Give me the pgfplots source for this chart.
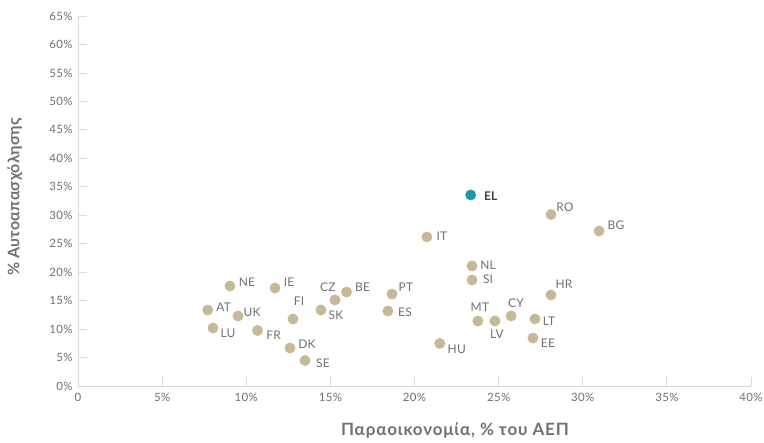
\documentclass[border=0pt]{standalone}
\usepackage{pgfplots}
\pgfplotsset{compat=1.18}
\usepackage{pgfplotstable}
\usepackage{fontspec}
\setmainfont{Lato}
\definecolor{ptan}{HTML}{C8B89A}
\definecolor{elteal}{HTML}{1C99A6}
\definecolor{txt}{HTML}{707070}
\definecolor{axgray}{HTML}{D9D9D9}

\pgfplotstableread{
x y lbl dx dy
7.71 13.35 AT 16 3
8.02 10.19 LU 15 -5
9.03 17.57 NE 17 4
9.51 12.30 UK 14 4
11.71 17.22 IE 14 6
10.67 9.75 FR 16 -5
12.78 11.77 FI 6 18
12.60 6.68 DK 17 4
13.49 4.48 SE 18 -3
14.44 13.35 SK 15 -5
15.27 15.11 CZ -7 13
15.96 16.51 BE 16 5
18.42 13.18 ES 17 -1
18.66 16.16 PT 14 7
20.74 26.18 IT 15 1
23.42 21.08 NL 16 1
23.42 18.62 SI 16 1
21.50 7.47 HU 17 -6
23.77 11.42 MT 2 14
24.78 11.42 LV 2 -13
25.74 12.30 CY 5 13
27.16 11.77 LT 14 -2
27.04 8.43 EE 15 -5
28.11 15.99 HR 13 11
28.11 30.13 RO 14 7
30.97 27.23 BG 17 6
}\datatable

\pgfplotstableread{
x y lbl dx dy
23.34 33.56 EL 20 -1
}\eltable

\begin{document}
\begin{tikzpicture}
\begin{axis}[
  name=ax,
  scale only axis,
  width=673bp, height=370bp,
  xmin=0, xmax=40, ymin=0, ymax=65,
  clip=false,
  axis x line*=bottom, axis y line*=left,
  axis line style={axgray, line width=0.8pt, -},
  xtick={0,5,10,15,20,25,30,35,40},
  xticklabels={0,5\%,10\%,15\%,20\%,25\%,30\%,35\%,40\%},
  ytick={0,5,10,15,20,25,30,35,40,45,50,55,60,65},
  yticklabels={0\%,5\%,10\%,15\%,20\%,25\%,30\%,35\%,40\%,45\%,50\%,55\%,60\%,65\%},
  tick align=inside,
  major tick length=9bp,
  tick style={axgray, line width=0.8pt},
  ticklabel style={font=\fontsize{11.5}{13}\selectfont\addfontfeature{LetterSpace=3}, text=txt},
  xticklabel style={yshift=-4bp},
  yticklabel style={xshift=-2bp},
  /pgf/number format/assume math mode=true,
  xlabel={Παραοικονομία, \% του ΑΕΠ},
  ylabel={\% Αυτοαπασχόλησης},
  xlabel style={at={(axis description cs:0.56,-0.119)}, anchor=center, font=\bfseries\fontsize{17}{20}\selectfont\addfontfeature{LetterSpace=5}, text=txt},
  ylabel style={at={(axis description cs:-0.094,0.511)}, anchor=center, font=\bfseries\fontsize{16}{18}\selectfont\addfontfeature{LetterSpace=2}, text=txt},
]
\addplot[only marks, mark=*, mark size=5.2bp, mark options={draw=ptan, fill=ptan},
  point meta=explicit symbolic,
  visualization depends on={\thisrow{dx} \as \myDX},
  visualization depends on={\thisrow{dy} \as \myDY},
  nodes near coords,
  every node near coord/.append style={anchor=center, xshift=\myDX bp, yshift=\myDY bp, inner sep=0pt,
     font=\fontsize{12}{14}\selectfont\addfontfeature{LetterSpace=2}, text=txt}]
  table[x=x, y=y, meta=lbl] {\datatable};
\addplot[only marks, mark=*, mark size=5.2bp, mark options={draw=elteal, fill=elteal},
  point meta=explicit symbolic,
  visualization depends on={\thisrow{dx} \as \myDX},
  visualization depends on={\thisrow{dy} \as \myDY},
  nodes near coords,
  every node near coord/.append style={anchor=center, xshift=\myDX bp, yshift=\myDY bp, inner sep=0pt,
     font=\bfseries\fontsize{12}{14}\selectfont, text=black!75}]
  table[x=x, y=y, meta=lbl] {\eltable};
\end{axis}
\pgfresetboundingbox
\path[use as bounding box] ([xshift=-78bp,yshift=-57bp]ax.south west) rectangle ([xshift=13bp,yshift=16bp]ax.north east);
\end{tikzpicture}
\end{document}
